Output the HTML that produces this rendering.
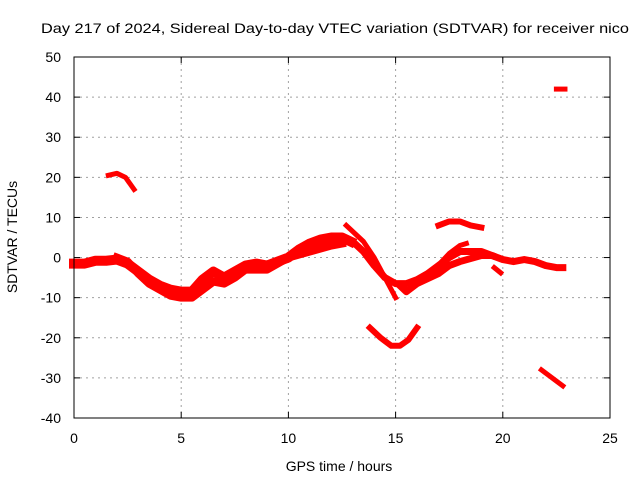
<!DOCTYPE html>
<html><head><meta charset="utf-8"><style>
body{margin:0;background:#fff}
svg{display:block;font-family:"Liberation Sans",sans-serif}
</style></head><body>
<svg id="chart" width="640" height="480" xmlns="http://www.w3.org/2000/svg">
<rect width="640" height="480" fill="#fff"/>
<text x="335" y="33" font-size="14" text-anchor="middle" textLength="588" lengthAdjust="spacingAndGlyphs">Day 217 of 2024, Sidereal Day-to-day VTEC variation (SDTVAR) for receiver nico</text>
<g id="grid"></g>
<g id="ticks"></g>
<g id="marks"></g>
<rect x="74" y="57" width="536" height="361" fill="none" stroke="#000" stroke-width="1"/>
<text x="339" y="471" font-size="14" text-anchor="middle">GPS time / hours</text>
<text x="17" y="237" font-size="14" text-anchor="middle" transform="rotate(-90 17 237)">SDTVAR / TECUs</text>
</svg>
<script>
const xTicks=[0,5,10,15,20,25];
const yTicks=[-40,-30,-20,-10,0,10,20,30,40,50];
const s1=[[0,-1.5],[0.5,-1.5],[1,-0.8],[1.5,-0.8],[2,-0.5],[2.5,-1.5],[3,-3.5],[3.5,-5.5],[4,-7],[4.5,-8],[5,-8.5],[5.5,-8.5],[6,-5.5],[6.5,-3.5],[7,-5],[7.5,-3.5],[8,-2],[8.5,-1.5],[9,-2],[9.5,-1],[10,0],[10.5,2],[11,3.5],[11.5,4.5],[12,5],[12.5,5],[12.9,4]];
const s2=[[2,0],[2.5,-1],[3,-4],[3.5,-6.5],[4,-8],[4.5,-9.5],[5,-10],[5.5,-10],[6,-8],[6.5,-6],[7,-6.5],[7.5,-5],[8,-3],[9,-3],[10,0],[11,1.5],[12,3],[12.5,3.5]];
const s3=[[12.7,8],[13.5,4],[14,0],[14.5,-5],[15,-10]];
const s4=[[12.5,5],[13,4],[13.5,1.5],[14,-2],[14.5,-5],[15,-6.5],[15.5,-6.5],[16,-5.5],[16.5,-4],[17,-2],[17.5,0],[18,1.5],[18.5,1.5],[19,1.5],[19.5,0.5]];
const s5=[[15.2,-7],[15.5,-8.5],[16,-6.5],[17,-4],[17.5,-2],[18,-1],[19,0.5],[19.5,0.5],[20,-0.5],[20.5,-1],[21,-0.5],[21.5,-1],[22,-2],[22.5,-2.5],[22.8,-2.5]];
const s6=[[16.8,-3],[17.5,1],[18,3],[18.3,3.5]];
const s7=[[17,8],[17.5,9],[18,9],[18.5,8],[19,7.5]];
const s8=[[13.8,-17.5],[14.3,-20],[14.8,-22],[15.2,-22],[15.6,-20.5],[16,-17.5]];
const s9=[[1.6,20.5],[2,21],[2.4,20],[2.8,17]];
const s10=[[21.8,-28],[22.3,-30],[22.8,-32]];
const s11=[[22.5,42],[22.9,42]];
const s12=[[19.6,-2.5],[19.9,-3.8]];
const series=[s1,s2,s3,s4,s5,s6,s7,s8,s9,s10,s11,s12];
const widths=[10,8,5,7,7,5,6,6,5,5,5,5];
const NS="http://www.w3.org/2000/svg";
const X=v=>74+v*536/25, Y=v=>418-(v+40)*361/90;
const grid=document.getElementById('grid'),ticks=document.getElementById('ticks'),marks=document.getElementById('marks');
function mk(t,a,p){const e=document.createElementNS(NS,t);for(const k in a)e.setAttribute(k,a[k]);p.appendChild(e);return e;}
xTicks.forEach(v=>{
 if(v>0&&v<25){const g=mk('line',{x1:X(v),x2:X(v),y1:57,y2:418,stroke:'#a0a0a0','stroke-dasharray':'2,4'},grid);
 
 }
 const t=mk('line',{x1:X(v),x2:X(v),y1:418,y2:412,stroke:'#000'},ticks);
 
 
 const t2=mk('line',{x1:X(v),x2:X(v),y1:57,y2:63,stroke:'#000'},ticks);
 
 
 const l=mk('text',{x:X(v),y:443,'font-size':14,'text-anchor':'middle'},ticks);l.textContent=v;
 
 
});
yTicks.forEach(v=>{
 if(v>-40&&v<50){const g=mk('line',{x1:74,x2:610,y1:Y(v),y2:Y(v),stroke:'#a0a0a0','stroke-dasharray':'2,4'},grid);
 
 }
 const t=mk('line',{x1:74,x2:80,y1:Y(v),y2:Y(v),stroke:'#000'},ticks);
 
 
 const t2=mk('line',{x1:604,x2:610,y1:Y(v),y2:Y(v),stroke:'#000'},ticks);
 
 
 const l=mk('text',{x:61,y:Y(v)+5,'font-size':14,'text-anchor':'end'},ticks);l.textContent=v;
 
 
});
series.forEach((s,i)=>{
 const p=mk('polyline',{points:s.map(d=>X(d[0])+','+Y(d[1])).join(' '),fill:'none',stroke:'#ff0000','stroke-width':widths[i],'stroke-linejoin':'round','stroke-linecap':'square'},marks);
 
 
});
</script>
</body></html>
